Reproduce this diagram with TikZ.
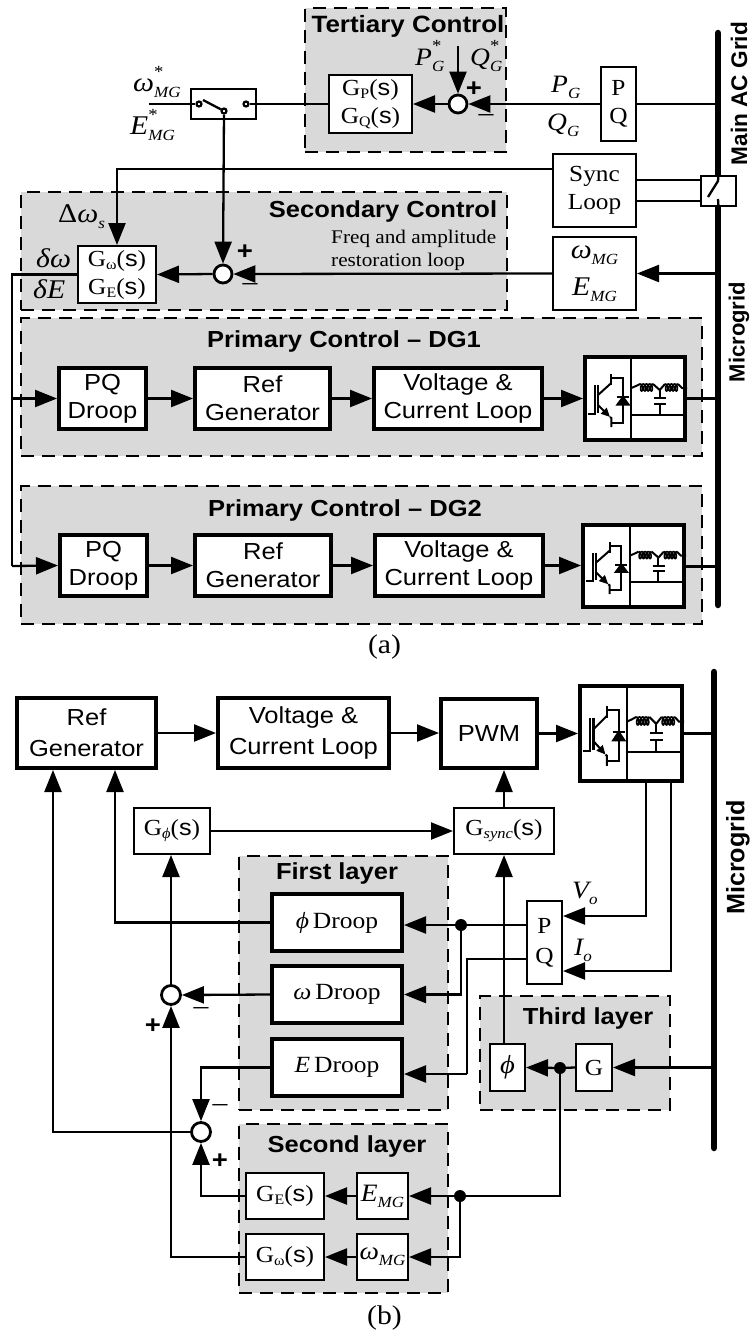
\documentclass[tikz,border=0pt]{standalone}
\usepackage{fontspec}
\usetikzlibrary{arrows.meta,calc}
\setmainfont[FakeStretch=1.1]{Liberation Serif}
\newfontfamily\ars[FakeStretch=1.1]{Liberation Sans}
\newfontfamily\arsr{Liberation Sans}
\definecolor{panelgray}{HTML}{D9D9D9}
\tikzset{
  base/.style={inner sep=0pt,align=center},
  thinbx/.style={base,draw,fill=white,line width=2.3pt,font=\fontsize{23}{28}\selectfont},
  thickbx/.style={base,draw,fill=white,line width=4.2pt,font=\ars\fontsize{23.2}{28}\selectfont},
  panel/.style={draw,fill=panelgray,line width=2.2pt,dash pattern=on 13pt off 8pt},
  lbl/.style={base,font=\fontsize{23}{28}\selectfont},
  tag/.style={inner sep=0pt,anchor=base west},
  title/.style={base,font=\ars\bfseries\fontsize{23.2}{26}\selectfont},
  conn/.style={line width=2.3pt},
  arr/.style={line width=2.3pt,-{Triangle[length=22pt,width=17pt]}},
  sumj/.style={circle,draw,fill=white,line width=2.8pt,minimum size=18pt,inner sep=0pt},
  dot/.style={circle,fill=black,minimum size=12pt,inner sep=0pt},
  term/.style={circle,draw,fill=white,line width=2.2pt,minimum size=5pt,inner sep=0pt},
  busline/.style={line width=6.5pt,line cap=round},
  sgn/.style={base,font=\ars\bfseries\fontsize{25}{25}\selectfont},
  neg/.style={base,font=\fontsize{27}{27}\selectfont},
}
\newcommand{\bx}[8]{%
  \pgfmathsetmacro\cx{(#4+#6)/2}\pgfmathsetmacro\cy{(#5+#7)/2}%
  \node[#2,minimum width={#6-#4-#1},minimum height={#7-#5-#1}] (#3) at (\cx,\cy) {#8};}
\newcommand{\gn}[1]{G\raisebox{-3pt}{\fontsize{14.5}{14.5}\selectfont #1}({\ars s})}
\def\lsz{25}
\newcommand{\ssub}[2]{{\fontsize{\lsz}{\lsz}\selectfont\itshape #1}\raisebox{-6pt}{\fontsize{15.5}{15.5}\selectfont\itshape #2}}
\newcommand{\sstar}[2]{{\fontsize{\lsz}{\lsz}\selectfont\itshape #1}\rlap{\raisebox{-6pt}{\fontsize{15.5}{15.5}\selectfont\itshape #2}}\raisebox{14pt}{\fontsize{17}{17}\selectfont *}}
\newcommand{\coilplot}[1]{\draw[line width=1.6pt,shift={(#1,29)}] plot[domain=180:1620,samples=100] ({(\x-180)/1440*13-1.8*sin(\x)},{3.5*(1+cos(\x))});}
\newcommand{\conv}[5]{%
  \bx{4.2}{thickbx}{#1}{#2}{#3}{#4}{#5}{}
  \pgfmathsetmacro\sxx{(#4-#2)/104}\pgfmathsetmacro\syy{(#5-#3)/87}%
  \begin{scope}[shift={(#2,#3)},xscale=\sxx,yscale=\syy,line width=2pt]
    \draw (48.3,0) -- (48.3,87);
    \draw (48.3,60) -- (104,60);
    \draw (5,58.5) -- (12,58.5) -- (12,30);
    \draw[line width=2.6pt] (15,30) -- (15,58);
    \draw (15,40) -- (28.3,28);
    \draw (28.3,19) -- (28.3,30);
    \draw (28.3,23) -- (40,23) -- (40,68) -- (28.3,68);
    \draw[-{Triangle[length=9pt,width=8pt]}] (15,50) -- (27,62);
    \draw (27,62) -- (28.3,63) -- (28.3,72);
    \draw[fill=black] (40,42) -- (34.5,49.5) -- (45.5,49.5) -- cycle;
    \draw (34,42) -- (46,42);
    \draw (48.3,33) -- (53,31) -- (57,29);
    \coilplot{57}
    \draw (70,29) -- (76.7,35);
    \draw (82,29) -- (76.7,35);
    \coilplot{82}
    \draw (95,29) -- (99,33) -- (104,33);
    \draw (76.7,35) -- (76.7,43);
    \draw (71,43) -- (83,43);
    \draw (71,49) -- (83,49);
    \draw (76.7,49) -- (76.7,60);
  \end{scope}}
\begin{document}
\begin{tikzpicture}[x=1pt,y=-1pt]
\useasboundingbox (0,0) rectangle (752,1334);
% ===== panels (a)
\bx{2.2}{panel}{tertp}{304}{7}{507}{153}{}
\bx{2.2}{panel}{secp}{20}{191}{508}{311}{}
\bx{2.2}{panel}{prip1}{20}{317}{703}{457}{}
\bx{2.2}{panel}{prip2}{20}{485}{703}{625}{}
% ===== panels (b)
\bx{2.2}{panel}{firstp}{238}{855}{449}{1111}{}
\bx{2.2}{panel}{secondp}{238}{1123}{449}{1294}{}
\bx{2.2}{panel}{thirdp}{479}{995}{671}{1111}{}
% titles
\node[title,font=\ars\bfseries\fontsize{23.6}{26}\selectfont] (t1) at (408,26) {Tertiary Control};
\node[title] (t2) at (383,211) {Secondary Control};
\node[title] (t3) at (344,341) {Primary Control – DG1};
\node[title] (t4) at (345,510) {Primary Control – DG2};
\node[title] (t5) at (337,873) {First layer};
\node[title] (t6) at (347,1146) {Second layer};
\node[title] (t7) at (588,1018) {Third layer};
\node[lbl,font=\fontsize{19.3}{23}\selectfont,align=left,anchor=west] (fr) at (331,250) {Freq and amplitude\\restoration loop};
\node[base,font=\fontsize{27}{27}\selectfont] (capa) at (384.5,647) {(a)};
\node[base,font=\fontsize{27}{27}\selectfont] (capb) at (384.5,1318) {(b)};
% rotated labels
\node[title,rotate=90,font=\arsr\bfseries\fontsize{22.6}{26}\selectfont] (mag) at (739,93.5) {Main AC Grid};
\node[title,rotate=90,font=\arsr\bfseries\fontsize{22}{26}\selectfont] (mg1) at (739,332) {Microgrid};
\node[title,rotate=90,font=\arsr\bfseries\fontsize{25.2}{26}\selectfont] (mg2) at (738,857.5) {Microgrid};
% buses
\coordinate (busT) at (718,33);
\coordinate (busB) at (718,605);
\coordinate (busbT) at (714,672);
\coordinate (busbB) at (714,1148);
\draw[busline] (busT) -- (busB);
\draw[busline] (busbT) -- (busbB);
% ===== blocks (a)
\bx{2.3}{thinbx}{gpq}{328}{74}{413}{134}{\gn{P}\\\gn{Q}}
\bx{2.3}{thinbx}{pqa}{600}{66}{637}{142}{P\\Q}
\bx{2.3}{thinbx}{sync}{552}{153}{637}{228}{Sync\\Loop}
\bx{2.3}{thinbx}{wmg}{552}{236}{637}{311}{\def\lsz{27}\ssub{ω}{MG}\\[9pt]\def\lsz{27}\ssub{E}{MG}}
\bx{2.3}{thinbx}{swb}{190}{88}{257}{120}{}
\bx{2.3}{thinbx}{busw}{700}{175}{737}{207}{}
\bx{2.3}{thinbx}{gw}{77}{245}{157}{304}{\gn{ω}\\\gn{E}}
\node[sumj] (tsum) at (458,104) {};
\node[sumj] (ssum) at (223,274) {};
\node[term] (swl) at (199,104) {};
\node[term] (swr) at (246,104) {};
\node[term] (swm) at (224,111) {};
\bx{4.2}{thickbx}{pq1}{57}{366}{148}{431}{PQ\\Droop}
\bx{4.2}{thickbx}{rg1}{193}{366}{332}{431}{Ref\\Generator}
\bx{4.2}{thickbx}{vc1}{372}{366}{544}{431}{Voltage \&\\Current Loop}
\conv{inv1}{583}{355}{687}{442}
\bx{4.2}{thickbx}{pq2}{58}{533}{149}{598}{PQ\\Droop}
\bx{4.2}{thickbx}{rg2}{193}{533}{333}{598}{Ref\\Generator}
\bx{4.2}{thickbx}{vc2}{373}{533}{545}{598}{Voltage \&\\Current Loop}
\conv{inv2}{581}{523}{686}{609}
% ===== blocks (b)
\bx{4.2}{thickbx}{rgb}{15}{696}{158}{770}{Ref\\[3pt]Generator}
\bx{4.2}{thickbx}{vcb}{216}{696}{391}{770}{Voltage \&\\[3pt]Current Loop}
\bx{4.2}{thickbx}{pwm}{439}{697}{539}{770}{PWM}
\conv{invb}{578}{684}{684}{783}
\bx{2.3}{thinbx}{gphi}{133}{807}{211}{855}{G\raisebox{-3pt}{\fontsize{15}{15}\selectfont\itshape ϕ}({\ars s})}
\bx{2.3}{thinbx}{gsync}{453}{807}{555}{855}{G\raisebox{-3pt}{\fontsize{15}{15}\selectfont\itshape sync}({\ars s})}
\bx{4.2}{thickbx}{phidr}{270}{892}{404}{953}{\rmfamily{\itshape ϕ}\,Droop}
\bx{4.2}{thickbx}{wdr}{270}{964}{404}{1025}{\rmfamily{\itshape ω}\,Droop}
\bx{4.2}{thickbx}{edr}{270}{1037}{404}{1098}{\rmfamily{\itshape E}\,Droop}
\bx{2.3}{thinbx}{pqb}{526}{900}{563}{985}{P\\[2pt]Q}
\bx{2.3}{thinbx}{phib}{489}{1043}{526}{1092}{{\fontsize{26}{26}\selectfont\itshape ϕ}}
\bx{2.3}{thinbx}{gb}{575}{1043}{613}{1092}{G}
\bx{2.3}{thinbx}{geb}{245}{1172}{325}{1220}{\gn{E}}
\bx{2.3}{thinbx}{emgb}{356}{1172}{409}{1220}{\ssub{E}{MG}}
\bx{2.3}{thinbx}{gwb}{245}{1233}{325}{1281}{\gn{ω}}
\bx{2.3}{thinbx}{wmgb}{356}{1233}{409}{1281}{\ssub{ω}{MG}}
\node[sumj,minimum size=19pt] (sum1) at (171,995) {};
\node[sumj,minimum size=19pt] (sum2) at (201,1132) {};
\node[dot] (j1) at (461,925) {};
\node[dot] (j3) at (560,1068) {};
\node[dot] (j2) at (460,1196) {};
% ===== text labels (a)
\node[tag] (lps) at (415,65) {\sstar{P}{G}};
\node[tag] (lqs) at (470,65) {\sstar{Q}{G}};
\node[sgn] (ptert) at (474,89) {+};
\node[neg] (mtert) at (486,118) {–};
\node[tag] (lpg) at (551,92) {\ssub{P}{G}};
\node[tag] (lqg) at (547,130) {\ssub{Q}{G}};
\node[tag] (lwms) at (133,91) {\def\lsz{27}\sstar{ω}{MG}};
\node[tag] (lems) at (130,134) {\def\lsz{27}\sstar{E}{MG}};
\node[tag] (ldws) at (58,222) {{\fontsize{27}{27}\selectfont Δ\itshape ω}\raisebox{-6pt}{\fontsize{15.5}{15.5}\selectfont\itshape s}};
\node[tag] (ldw) at (36,267) {{\fontsize{27}{27}\selectfont\itshape δω}};
\node[tag] (lde) at (33,298) {{\fontsize{27}{27}\selectfont\itshape δE}};
\node[sgn] (psec) at (245,252) {+};
\node[neg] (msec) at (250,287) {–};
% ===== text labels (b)
\node[tag] (lvo) at (572,898) {\ssub{V}{o}};
\node[tag] (lio) at (574,955) {\ssub{I}{o}};
\node[sgn] (p1) at (153,1026) {+};
\node[neg] (m1) at (201,1011) {–};
\node[neg] (m2) at (220,1108) {–};
\node[sgn] (p2) at (220,1161) {+};
% ===== connectors (a)
\coordinate (wmin) at (149,104);
\draw[conn] (wmin) -- (swl);
\draw[conn] (swr) -- (gpq.west);
\coordinate (blade) at (203,100);
\draw[conn] (blade) -- (swm);
\coordinate (pqin) at (458,46);
\draw[arr] (pqin) -- (tsum.north);
\draw[arr] (tsum.west) -- (gpq.east);
\draw[arr] (pqa.west) -- (tsum.east);
\draw[conn] (pqa.east) -- (pqa.east -| busT);
\coordinate (syncL) at (552,169);
\coordinate (syncU) at (637,180);
\coordinate (syncD) at (637,201);
\draw[arr] (syncL) -| (gw.north);
\draw[conn] (syncU) -- (syncU -| busw.west);
\draw[conn] (syncD) -- (syncD -| busw.west);
\coordinate (bswA) at (718,181);
\coordinate (bswB) at (708,197);
\coordinate (bswC) at (718,199);
\draw[conn] (busw.north) -- (bswA) -- (bswB);
\draw[conn] (bswC) -- (busw.south);
\draw[arr] (swm) -- (ssum.north);
\draw[arr] (wmg.west) -- (ssum.east);
\draw[arr] (ssum.west) -- (gw.east);
\draw[arr] (wmg.east -| busT) -- (wmg.east);
\coordinate (rail) at (12,566);
\draw[conn] (gw.west) -| (rail);
\draw[arr] (rail |- pq1.west) -- (pq1.west);
\draw[arr] (rail) -- (pq2.west);
\draw[arr] (pq1.east) -- (rg1.west);
\draw[arr] (rg1.east) -- (vc1.west);
\draw[arr] (vc1.east) -- (vc1.east -| inv1.west);
\draw[conn] (inv1.east) -- (inv1.east -| busT);
\draw[arr] (pq2.east) -- (rg2.west);
\draw[arr] (rg2.east) -- (vc2.west);
\draw[arr] (vc2.east) -- (vc2.east -| inv2.west);
\draw[conn,line width=3pt] (inv2.east) -- (inv2.east -| busT);
% ===== connectors (b)
\draw[arr] (rgb.east) -- (vcb.west);
\draw[arr] (vcb.east) -- (vcb.east -| pwm.west);
\draw[arr] (pwm.east) -- (pwm.east -| invb.west);
\draw[conn,line width=3pt] (invb.east) -- (invb.east -| busbT);
\draw[arr] (gphi.east) -- (gsync.west);
\draw[arr] (gsync.north) -- (gsync.north |- pwm.south);
\draw[arr] (gsync.south |- phib.north) -- (gsync.south);
\coordinate (pqP) at (526,925);
\coordinate (pqQ) at (526,959);
\draw[conn] (pqP) -- (j1);
\draw[arr] (j1) -- (j1 -| phidr.east);
\draw[arr] (j1) |- (wdr.east);
\coordinate (qturn) at (467,1074);
\draw[conn] (pqQ) -| (qturn);
\draw[arr] (qturn) -- (qturn -| edr.east);
\coordinate (vS) at (646,783);
\coordinate (vT) at (563,916);
\coordinate (iS) at (671,783);
\coordinate (iT) at (563,971);
\draw[arr] (vS) |- (vT);
\draw[arr] (iS) |- (iT);
\draw[arr] (gb.east -| busbT) -- (gb.east);
\draw[conn] (gb.west) -- (j3);
\draw[arr] (j3) -- (phib.east);
\draw[conn] (j3) |- (j2);
\draw[arr] (j2) -- (emgb.east);
\draw[arr] (j2) |- (wmgb.east);
\draw[arr] (emgb.west) -- (geb.east);
\draw[arr] (wmgb.west) -- (gwb.east);
\coordinate (rgA) at (53,770);
\coordinate (rgB) at (115,770);
\draw[arr] (sum2.west) -| (rgA);
\draw[arr] (phidr.west) -| (rgB);
\draw[arr] (sum1.north) -- (sum1.north |- gphi.south);
\draw[arr] (wdr.west) -- (sum1.east);
\draw[arr] (edr.west) -| (sum2.north);
\draw[arr] (geb.west) -| (sum2.south);
\draw[arr] (gwb.west) -| (sum1.south);
\end{tikzpicture}
\end{document}
